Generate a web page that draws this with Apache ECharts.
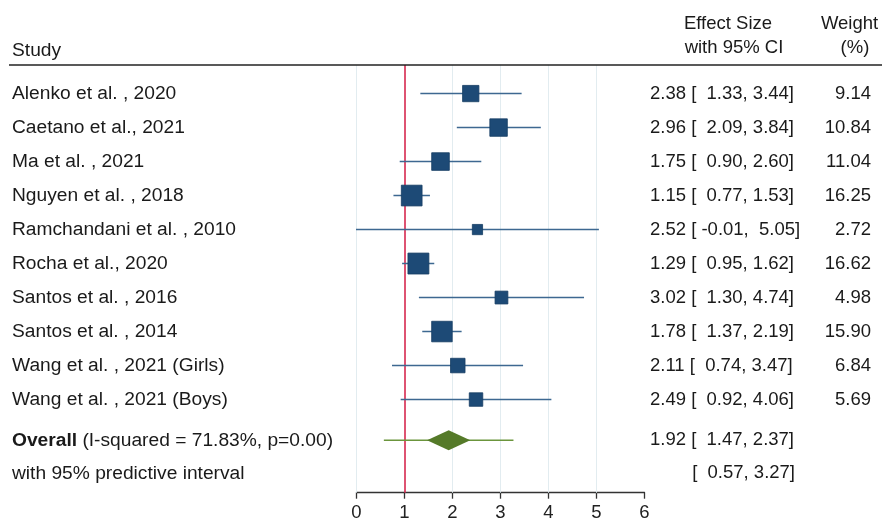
<!DOCTYPE html>
<html>
<head>
<meta charset="utf-8">
<script src="https://cdn.jsdelivr.net/npm/echarts@6/dist/echarts.min.js"></script>
<style>html,body{margin:0;padding:0;background:#fff}#c{width:882px;height:519px}</style>
</head>
<body>
<div id="c"></div>
<script>
const studies = ["Alenko et al. , 2020","Caetano et al., 2021","Ma et al. , 2021","Nguyen et al. , 2018","Ramchandani et al. , 2010","Rocha et al., 2020","Santos et al. , 2016","Santos et al. , 2014","Wang et al. , 2021 (Girls)","Wang et al. , 2021 (Boys)"];
const effect = [2.38, 2.96, 1.75, 1.15, 2.52, 1.29, 3.02, 1.78, 2.11, 2.49];
const lower  = [1.33, 2.09, 0.90, 0.77, -0.01, 0.95, 1.30, 1.37, 0.74, 0.92];
const upper  = [3.44, 3.84, 2.60, 1.53, 5.05, 1.62, 4.74, 2.19, 3.47, 4.06];
const weights = [9.14, 10.84, 11.04, 16.25, 2.72, 16.62, 4.98, 15.90, 6.84, 5.69];
const effectText = ["2.38 [  1.33, 3.44]","2.96 [  2.09, 3.84]","1.75 [  0.90, 2.60]","1.15 [  0.77, 1.53]","2.52 [ -0.01,  5.05]","1.29 [  0.95, 1.62]","3.02 [  1.30, 4.74]","1.78 [  1.37, 2.19]","2.11 [  0.74, 3.47]","2.49 [  0.92, 4.06]"];
const weightText = ["9.14","10.84","11.04","16.25","2.72","16.62","4.98","15.90","6.84","5.69"];
const overall = [1.92, 1.47, 2.37];
const predictive = [0.57, 3.27];
const overallLabel = ["Overall", " (I-squared = 71.83%, p=0.00)"];
const overallText = "1.92 [  1.47, 2.37]";
const predictiveLabel = "with 95% predictive interval";
const predictiveText = "[  0.57, 3.27]";
const xTicks = [0, 1, 2, 3, 4, 5, 6];
const gridValues = [0, 2, 3, 4, 5];
const nullValue = 1;
const overallRow = 10.2;
const predictiveRow = 11.17;

const FONT = "'Liberation Sans', Arial, sans-serif";
const FS = 18.5;
const FSL = 19.2;
const TXT = '#1a1a1a';

const chart = echarts.init(document.getElementById('c'), null, {renderer:'canvas'});

const studyData = studies.map((s, i) => [effect[i], lower[i], upper[i], weights[i], i]);
const textRows = studies.map((s, i) => ({row: i, left: s, mid: effectText[i], right: weightText[i]}));
textRows.push({row: overallRow, left: null, overall: true, mid: overallText, right: ''});
textRows.push({row: predictiveRow, left: predictiveLabel, mid: predictiveText, right: '', midRight: true});

chart.setOption({
  animation: false,
  grid: {left: 356.5, right: 237.5, top: 65, bottom: 26.3, containLabel: false, outerBoundsMode: 'none'},
  xAxis: {
    type: 'value', min: 0, max: 6, interval: 1,
    axisLine: {show: true, onZero: false, lineStyle: {color: '#333', width: 1.3}},
    axisTick: {show: true, inside: false, length: 6, lineStyle: {color: '#333', width: 1.3}},
    axisLabel: {fontFamily: FONT, fontSize: FS, color: '#222', margin: 11,
      formatter: v => xTicks.indexOf(v) >= 0 ? String(v) : ''},
    splitLine: {show: false}
  },
  yAxis: {type: 'value', min: -0.84, max: 11.74, inverse: true, show: false, splitLine: {show: false}},
  graphic: [
    {type: 'line', shape: {x1: 9, y1: 65, x2: 882, y2: 65}, style: {stroke: '#222', lineWidth: 1.6}, z: 10},
    {type: 'text', x: 12, y: 51, style: {text: 'Study', font: FSL + 'px ' + FONT, fill: TXT, textAlign: 'left', textVerticalAlign: 'middle'}},
    {type: 'text', x: 728, y: 24, style: {text: 'Effect Size', font: FS + 'px ' + FONT, fill: TXT, textAlign: 'center', textVerticalAlign: 'middle'}},
    {type: 'text', x: 734, y: 48, style: {text: 'with 95% CI', font: FS + 'px ' + FONT, fill: TXT, textAlign: 'center', textVerticalAlign: 'middle'}},
    {type: 'text', x: 849.5, y: 24, style: {text: 'Weight', font: FS + 'px ' + FONT, fill: TXT, textAlign: 'center', textVerticalAlign: 'middle'}},
    {type: 'text', x: 855, y: 48, style: {text: '(%)', font: FS + 'px ' + FONT, fill: TXT, textAlign: 'center', textVerticalAlign: 'middle'}}
  ],
  series: [
    {
      type: 'custom', name: 'grid', data: [], silent: true, z: 1,
      renderItem: () => null,
      markLine: {
        silent: true, symbol: 'none', label: {show: false},
        lineStyle: {color: '#e2ecf0', width: 1, type: 'solid'},
        data: gridValues.map(v => ({xAxis: v}))
      }
    },
    {
      type: 'custom', name: 'null', data: [], silent: true, z: 3,
      renderItem: () => null,
      markLine: {
        silent: true, symbol: 'none', label: {show: false}, z: 3,
        lineStyle: {color: '#d6284f', width: 1.6, type: 'solid'},
        data: [{xAxis: nullValue}]
      }
    },
    {
      type: 'custom', name: 'studies', z: 5,
      data: studyData,
      encode: {x: [0, 1, 2], y: 4},
      renderItem: (params, api) => {
        const row = api.value(4);
        const p = api.coord([api.value(0), row]);
        const l = api.coord([api.value(1), row]);
        const h = api.coord([api.value(2), row]);
        const size = 4.4 * Math.sqrt(api.value(3)) + 3;
        return {type: 'group', children: [
          {type: 'line', shape: {x1: l[0], y1: l[1], x2: h[0], y2: h[1]}, style: {stroke: '#3d6891', lineWidth: 1.5}},
          {type: 'rect', shape: {x: p[0] - size / 2, y: p[1] - size / 2, width: size, height: size}, style: {fill: '#1d4a76', stroke: '#163d63', lineWidth: 0.8}}
        ]};
      }
    },
    {
      type: 'custom', name: 'overall', z: 5,
      data: [[overall[0], overall[1], overall[2], predictive[0], predictive[1], overallRow]],
      encode: {x: [0, 1, 2, 3, 4], y: 5},
      renderItem: (params, api) => {
        const row = api.value(5);
        const c = api.coord([api.value(0), row]);
        const l = api.coord([api.value(1), row]);
        const h = api.coord([api.value(2), row]);
        const pl = api.coord([api.value(3), row]);
        const ph = api.coord([api.value(4), row]);
        const hh = 10;
        return {type: 'group', children: [
          {type: 'line', shape: {x1: pl[0], y1: pl[1], x2: ph[0], y2: ph[1]}, style: {stroke: '#6b953c', lineWidth: 1.5}},
          {type: 'polygon', shape: {points: [[l[0], c[1]], [c[0], c[1] - hh], [h[0], c[1]], [c[0], c[1] + hh]]}, style: {fill: '#557a29'}}
        ]};
      }
    },
    {
      type: 'custom', name: 'texts', z: 6, silent: true,
      data: textRows.map(r => [0, r.row]),
      encode: {x: 0, y: 1},
      renderItem: (params, api) => {
        const r = textRows[params.dataIndex];
        const y = api.coord([0, api.value(1)])[1];
        const font = FS + 'px ' + FONT;
        const fontL = FSL + 'px ' + FONT;
        const children = [];
        if (r.overall) {
          children.push({type: 'text', x: 12, y: y, style: {
            text: '{b|' + overallLabel[0] + '}{n|' + overallLabel[1] + '}',
            rich: {b: {fontFamily: FONT, fontSize: FSL, fontWeight: 'bold', fill: TXT}, n: {fontFamily: FONT, fontSize: FSL, fill: TXT}},
            textAlign: 'left', textVerticalAlign: 'middle'}});
        } else if (r.left) {
          children.push({type: 'text', x: 12, y: y, style: {text: r.left, font: fontL, fill: TXT, textAlign: 'left', textVerticalAlign: 'middle'}});
        }
        if (r.midRight) {
          children.push({type: 'text', x: 795, y: y, style: {text: r.mid, font: font, fill: TXT, textAlign: 'right', textVerticalAlign: 'middle'}});
        } else {
          children.push({type: 'text', x: 650, y: y, style: {text: r.mid, font: font, fill: TXT, textAlign: 'left', textVerticalAlign: 'middle'}});
        }
        if (r.right) {
          children.push({type: 'text', x: 871, y: y, style: {text: r.right, font: font, fill: TXT, textAlign: 'right', textVerticalAlign: 'middle'}});
        }
        return {type: 'group', children: children};
      }
    }
  ]
});
</script>
</body>
</html>
